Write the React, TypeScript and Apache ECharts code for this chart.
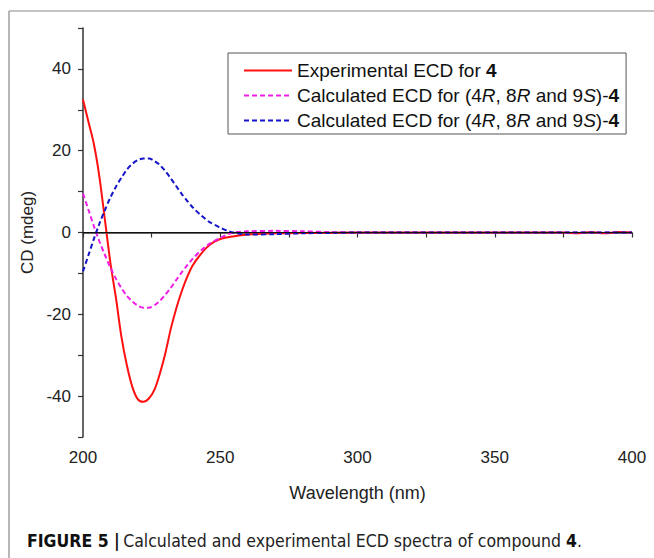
import React, { useEffect, useRef } from "react";
import * as echarts from "echarts";

const wavelengthExp = [200, 202, 204, 206, 208, 210, 212, 214, 216, 218, 220, 222, 224, 226, 228, 230, 232, 234, 236, 238, 240, 243, 246, 250, 255, 260, 270, 280, 300, 320, 340, 360, 375, 380, 385, 390, 395, 400];
const cdExp = [32.5, 27, 21.5, 13.5, 3, -7.5, -16, -25.5, -32.5, -37.8, -40.8, -41.4, -40.6, -38.5, -34.5, -29.5, -23.5, -18.5, -14.3, -10.8, -8, -5.2, -3.1, -1.6, -0.9, -0.5, -0.2, -0.1, 0, 0, 0, 0, 0, -0.2, 0.1, -0.2, 0.1, 0];

const wavelengthCalc = [200, 202, 204, 206, 208, 210, 212, 214, 216, 218, 220, 222, 224, 226, 228, 230, 232, 234, 236, 238, 240, 243, 246, 250, 253, 256, 260, 270, 280, 290, 300, 350, 400];
const cdCalcA = [9.5, 5.5, 1.5, -2.2, -5.5, -8.6, -11.3, -13.6, -15.5, -16.9, -17.9, -18.4, -18.4, -17.8, -16.7, -15.2, -13.5, -11.6, -9.7, -8.0, -6.4, -4.4, -2.8, -1.3, -0.4, 0.1, 0.3, 0.4, 0.3, 0.1, 0, 0, 0];
const cdCalcB = [-9.5, -5.5, -1.5, 2.2, 5.5, 8.6, 11.2, 13.4, 15.4, 16.8, 17.7, 18.1, 18.1, 17.5, 16.5, 15.0, 13.2, 11.3, 9.4, 7.7, 6.1, 4.2, 2.6, 1.2, 0.3, -0.2, -0.5, -0.4, -0.2, -0.1, 0, 0, 0];

const legendLabels: Record<string, string> = {
  exp: "{n|Experimental ECD for }{b|4}",
  calcA: "{n|Calculated ECD for (4}{i|R}{n|, 8}{i|R}{n| and 9}{i|S}{n|)-}{b|4}",
  calcB: "{n|Calculated ECD for (4}{i|R}{n|, 8}{i|R}{n| and 9}{i|S}{n|)-}{b|4}",
};

const FONT = "'Liberation Sans', Arial, sans-serif";
const CAPTION_FONT = "'Liberation Sans Narrow', 'DejaVu Sans Condensed', Arial, sans-serif";

export default function App() {
  const ref = useRef<HTMLDivElement>(null);
  useEffect(() => {
    if (!ref.current) return;
    const chart = echarts.init(ref.current, null, { renderer: "svg" });
    const zip = (xs: number[], ys: number[]) => xs.map((x, i) => [x, ys[i]]);
    chart.setOption({
      animation: false,
      backgroundColor: "#fff",
      textStyle: { fontFamily: FONT },
      grid: { left: 83, right: 22, top: 28, bottom: 121 },
      xAxis: {
        type: "value",
        min: 200,
        max: 400,
        interval: 25,
        name: "Wavelength (nm)",
        nameLocation: "middle",
        nameGap: 47,
        nameTextStyle: { fontSize: 18, color: "#222", fontFamily: FONT },
        axisLine: { show: true, lineStyle: { color: "#333", width: 1.5 } },
        axisTick: { show: true, length: 5, lineStyle: { color: "#333", width: 1.2 } },
        axisLabel: {
          fontSize: 17,
          color: "#222",
          margin: 12,
          formatter: (v: number) => (v % 50 === 0 ? String(v) : ""),
        },
        splitLine: { show: false },
      },
      yAxis: {
        type: "value",
        min: -50,
        max: 50,
        interval: 10,
        name: "CD (mdeg)",
        nameLocation: "middle",
        nameGap: 36,
        nameTextStyle: { fontSize: 17, color: "#222", fontFamily: FONT },
        axisLine: { show: true, lineStyle: { color: "#333", width: 1.5 } },
        axisTick: { show: true, length: 5, lineStyle: { color: "#333", width: 1.2 } },
        axisLabel: {
          fontSize: 17,
          color: "#222",
          margin: 12,
          formatter: (v: number) => (v % 20 === 0 && Math.abs(v) <= 40 ? String(v) : ""),
        },
        splitLine: { show: false },
      },
      legend: {
        orient: "vertical",
        left: 228,
        top: 53,
        data: ["exp", "calcA", "calcB"],
        formatter: (name: string) => legendLabels[name],
        itemWidth: 48,
        itemHeight: 14,
        itemGap: 4,
        padding: [7, 7, 3, 15],
        borderColor: "#555",
        borderWidth: 1,
        itemStyle: { opacity: 0 },
        textStyle: {
          fontSize: 19,
          color: "#111",
          lineHeight: 21,
          rich: {
            n: { fontSize: 19, color: "#111", fontFamily: FONT },
            i: { fontSize: 19, color: "#111", fontStyle: "italic", fontFamily: FONT },
            b: { fontSize: 19, color: "#111", fontWeight: "bold", fontFamily: FONT },
          },
        },
      },
      series: [
        {
          name: "exp",
          type: "line",
          symbol: "none",
          smooth: 0.3,
          data: zip(wavelengthExp, cdExp),
          lineStyle: { color: "#ff1010", width: 2 },
          itemStyle: { color: "#ff1010" },
          z: 3,
          markLine: {
            silent: true,
            symbol: ["none", "none"],
            label: { show: false },
            lineStyle: { color: "#111", width: 1, type: "solid" },
            data: [{ yAxis: 0 }],
          },
        },
        {
          name: "calcA",
          type: "line",
          symbol: "none",
          smooth: 0.3,
          data: zip(wavelengthCalc, cdCalcA),
          lineStyle: { color: "#f01ee6", width: 2, type: [5, 3] },
          itemStyle: { color: "#f01ee6" },
          z: 4,
        },
        {
          name: "calcB",
          type: "line",
          symbol: "none",
          smooth: 0.3,
          data: zip(wavelengthCalc, cdCalcB),
          lineStyle: { color: "#1414c8", width: 2, type: [5, 3] },
          itemStyle: { color: "#1414c8" },
          z: 4,
        },
      ],
      graphic: [
        { type: "line", shape: { x1: 9, y1: 11, x2: 654, y2: 11 }, style: { stroke: "#888", lineWidth: 1.2 } },
        { type: "line", shape: { x1: 9, y1: 11, x2: 9, y2: 558 }, style: { stroke: "#888", lineWidth: 1.2 } },
        {
          type: "text",
          left: 27,
          top: 532,
          style: {
            text: "{b|FIGURE 5 |} {n|Calculated and experimental ECD spectra of compound }{b|4}{n|.}",
            rich: {
              n: { fontSize: 17.5, fill: "#222", fontFamily: CAPTION_FONT },
              b: { fontSize: 17.5, fill: "#111", fontWeight: "bold", fontFamily: CAPTION_FONT },
            },
          },
        },
      ],
    });
    return () => chart.dispose();
  }, []);
  return (
    <div
      ref={ref}
      style={{ position: "absolute", left: 0, top: 0, width: 654, height: 558, background: "#fff" }}
    />
  );
}
